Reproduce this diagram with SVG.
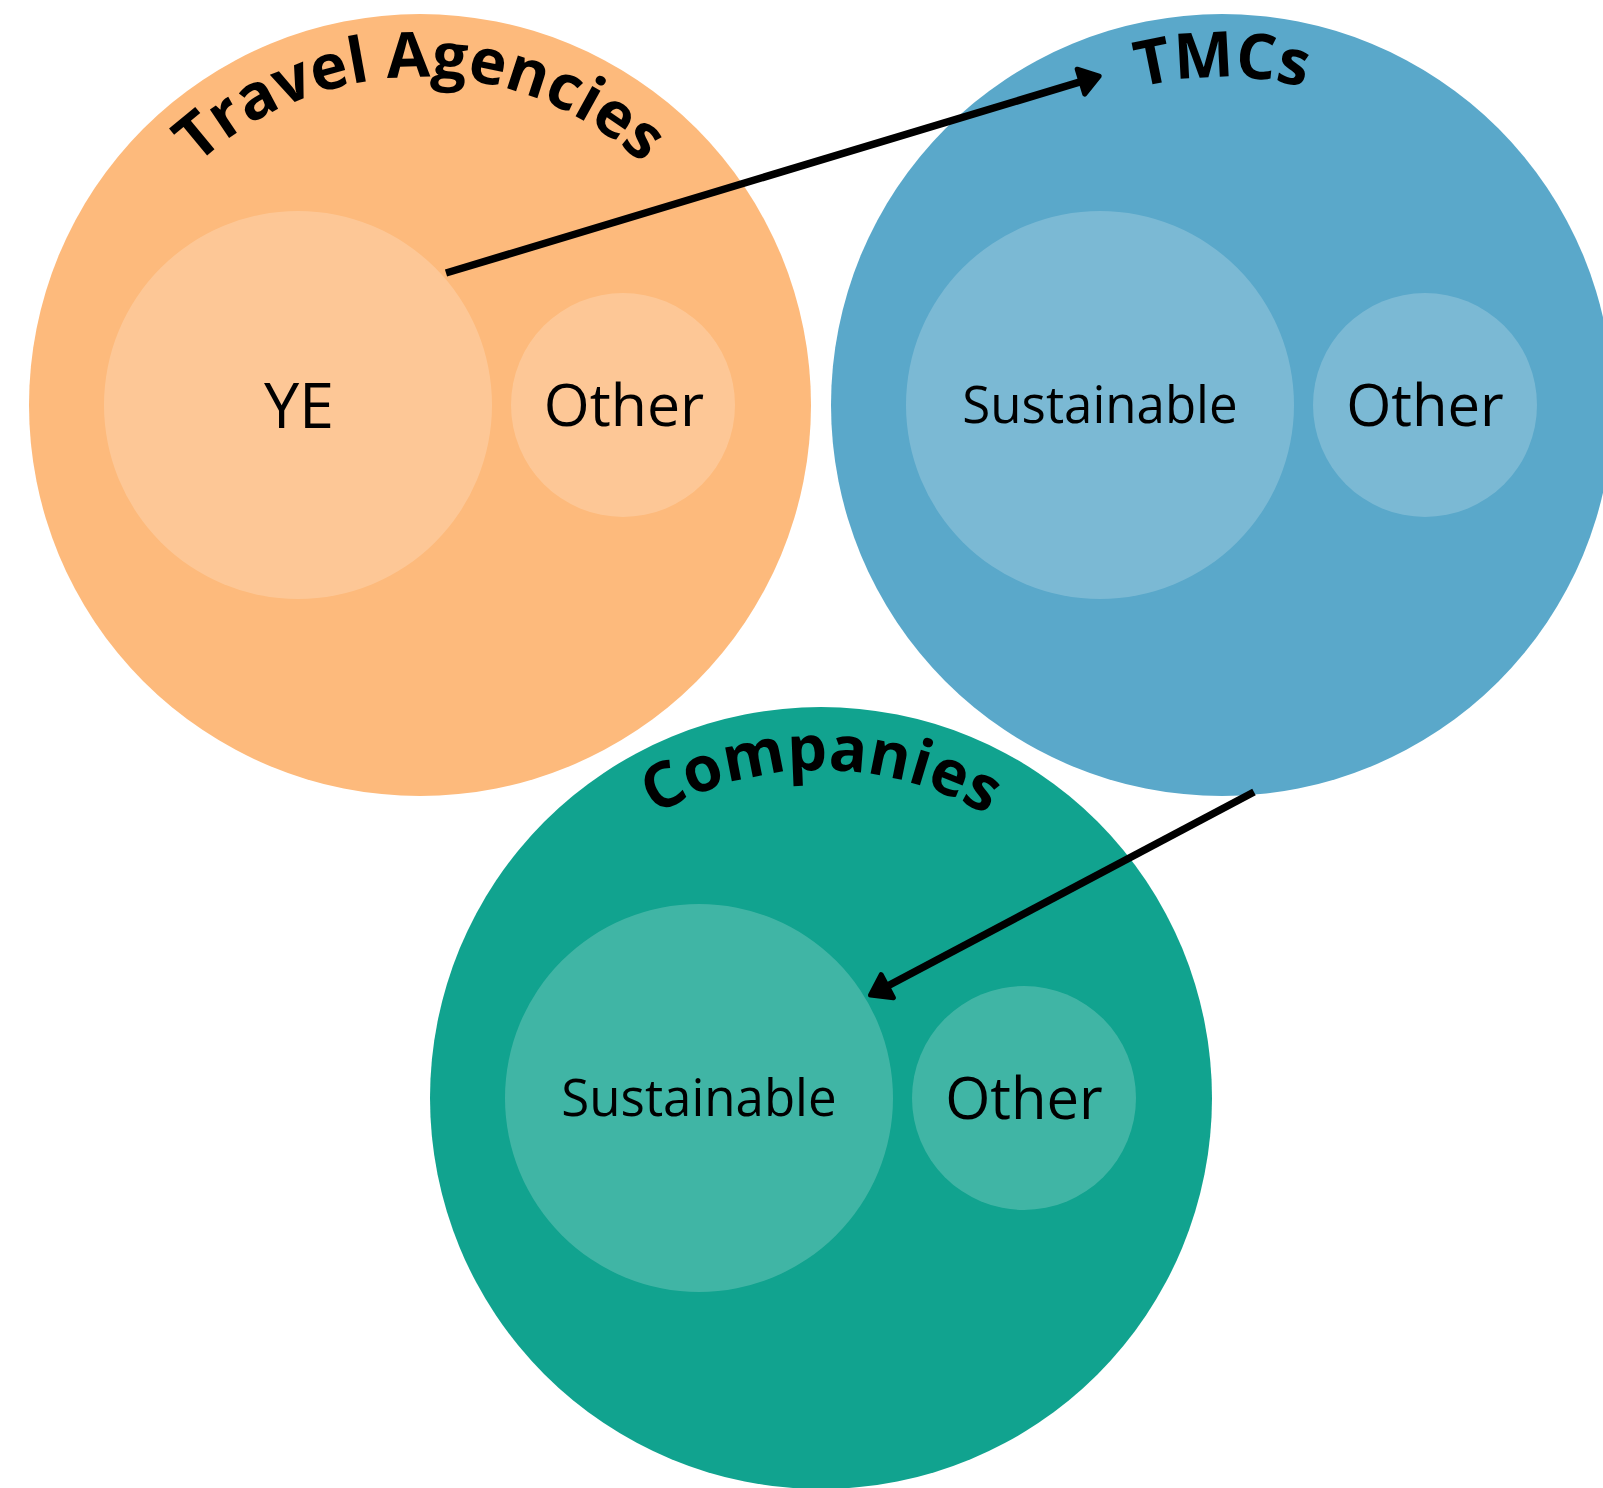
<svg xmlns="http://www.w3.org/2000/svg" width="1603" height="1488" viewBox="0 0 1603 1488">
  <style>
    .inner { fill: #ffffff; fill-opacity: 0.2; }
    .title { font-family: "Open Sans", "DejaVu Sans", sans-serif; font-weight: bold; font-size: 63px; fill: #000000; }
    .label { font-family: "Open Sans", "DejaVu Sans", sans-serif; font-weight: normal; fill: #000000; text-anchor: middle; }
    .conn { stroke: #000000; stroke-width: 7.5; fill: none; stroke-linecap: butt; }
  </style>
  <defs>
    <path id="arcTA" d="M 92,405 A 328 328 0 0 1 748,405"/>
    <path id="arcTMC" d="M 894,405 A 328 328 0 0 1 1550,405"/>
    <path id="arcCO" d="M 493,1098 A 328 328 0 0 1 1149,1098"/>
    <marker id="arrow" markerUnits="userSpaceOnUse" viewBox="-32 -22 40 44" markerWidth="40" markerHeight="44" refX="-10" refY="0" orient="auto">
      <path d="M-23,-13 L-4,0 L-23,13 Z" fill="#000000" stroke="#000000" stroke-width="5" stroke-linejoin="round"/>
    </marker>
  </defs>
  <rect x="0" y="0" width="1603" height="1488" fill="#ffffff"/>

  <g id="travel-agencies">
    <circle cx="420" cy="405" r="391" fill="#fdba7c"/>
    <text class="title"><textPath href="#arcTA" startOffset="50%" text-anchor="middle">Travel Agencies</textPath></text>
    <g id="ta-ye">
      <circle class="inner" cx="298" cy="405" r="194"/>
      <text class="label" x="299" y="428" font-size="63">YE</text>
    </g>
    <g id="ta-other">
      <circle class="inner" cx="623" cy="405" r="112"/>
      <text class="label" x="624" y="426" font-size="59">Other</text>
    </g>
  </g>

  <g id="tmcs">
    <circle cx="1222" cy="405" r="391" fill="#5aa8ca"/>
    <text class="title"><textPath href="#arcTMC" startOffset="50%" text-anchor="middle">TMCs</textPath></text>
    <g id="tmc-sustainable">
      <circle class="inner" cx="1100" cy="405" r="194"/>
      <text class="label" x="1100" y="423" font-size="51">Sustainable</text>
    </g>
    <g id="tmc-other">
      <circle class="inner" cx="1425" cy="405" r="112"/>
      <text class="label" x="1425" y="426" font-size="58">Other</text>
    </g>
  </g>

  <g id="companies">
    <circle cx="821" cy="1098" r="391" fill="#11a38f"/>
    <text class="title"><textPath href="#arcCO" startOffset="50%" text-anchor="middle">Companies</textPath></text>
    <g id="co-sustainable">
      <circle class="inner" cx="699" cy="1098" r="194"/>
      <text class="label" x="699" y="1116" font-size="51">Sustainable</text>
    </g>
    <g id="co-other">
      <circle class="inner" cx="1024" cy="1098" r="112"/>
      <text class="label" x="1024" y="1119" font-size="58">Other</text>
    </g>
  </g>

  <g id="connectors">
    <line class="conn" x1="446" y1="273" x2="1093.4" y2="77.9" marker-end="url(#arrow)"/>
    <line class="conn" x1="1254" y1="792" x2="875.8" y2="992.3" marker-end="url(#arrow)"/>
  </g>
</svg>
